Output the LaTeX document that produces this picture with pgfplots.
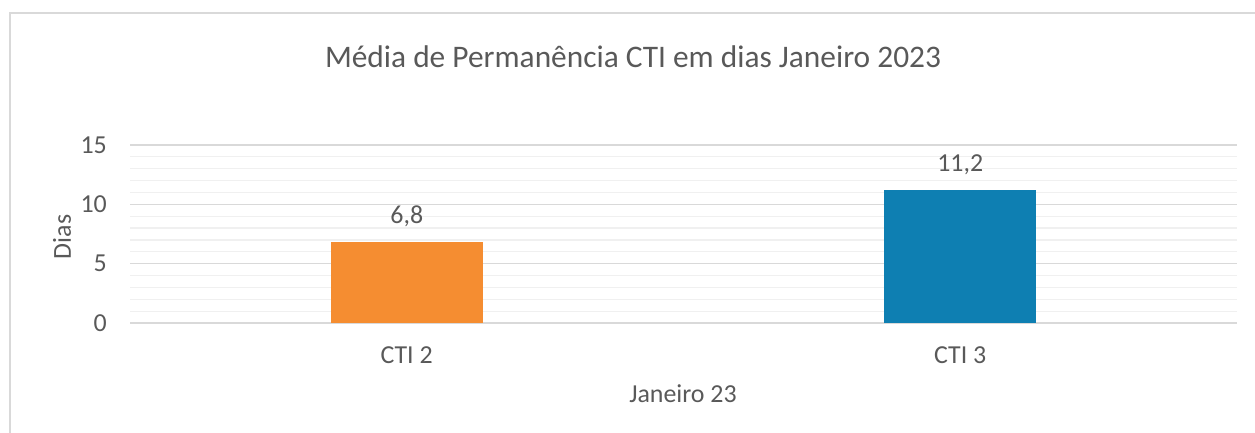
\documentclass[border=0pt]{standalone}
\usepackage{fontspec}
\setmainfont{Carlito}
\usepackage{pgfplots}
\pgfplotsset{compat=1.18}
\definecolor{txt}{HTML}{595959}
\definecolor{majg}{HTML}{D9D9D9}
\definecolor{ming}{HTML}{F0F0F0}
\definecolor{cOrange}{HTML}{F58D31}
\definecolor{cBlue}{HTML}{0E7FB2}
\begin{document}
\begin{tikzpicture}[x=1bp,y=1bp]
\useasboundingbox (0,0) rectangle (1255,432);
\draw[color=majg, line width=1.5bp] (10,-5) -- (10,419) -- (1260,419);
\begin{axis}[
  at={(130bp,109bp)}, anchor=south west,
  scale only axis, width=1107bp, height=178bp,
  xmin=-0.5, xmax=1.5, ymin=0, ymax=15,
  xtick={0,1}, xticklabels={CTI 2, CTI 3},
  ytick={0,5,10,15}, minor y tick num=4,
  ymajorgrids, yminorgrids,
  major grid style={majg, line width=1.2bp},
  minor grid style={ming, line width=1.2bp},
  axis line style={draw=none},
  major tick length=0pt, minor tick length=0pt,
  tick label style={font=\fontsize{26}{30}\selectfont, text=txt},
  yticklabel style={anchor=east, inner sep=0pt, xshift=-23bp},
  xticklabel style={anchor=north, inner sep=0pt, yshift=-23bp},
  /pgf/number format/assume math mode=true,
  nodes near coords={\pgfmathprintnumber[use comma, fixed, fixed zerofill, precision=1, assume math mode=true]{\pgfplotspointmeta}},
  every node near coord/.append style={font=\fontsize{26}{30}\selectfont, text=txt, anchor=south, inner sep=0pt, yshift=15bp},
  clip=false,
]
\addplot[ybar, bar width=152bp, bar shift=0pt, fill=cOrange, draw=none] coordinates {(0,6.8)};
\addplot[ybar, bar width=152bp, bar shift=0pt, fill=cBlue, draw=none] coordinates {(1,11.2)};
\end{axis}
\node[text=txt, font=\fontsize{31.5}{36}\selectfont] at (633,375) {Média de Permanência CTI em dias Janeiro 2023};
\node[text=txt, font=\fontsize{26}{30}\selectfont, rotate=90] at (62,237-42) {Dias};
\node[text=txt, font=\fontsize{26}{30}\selectfont] at (683,38) {Janeiro 23};
\end{tikzpicture}
\end{document}
